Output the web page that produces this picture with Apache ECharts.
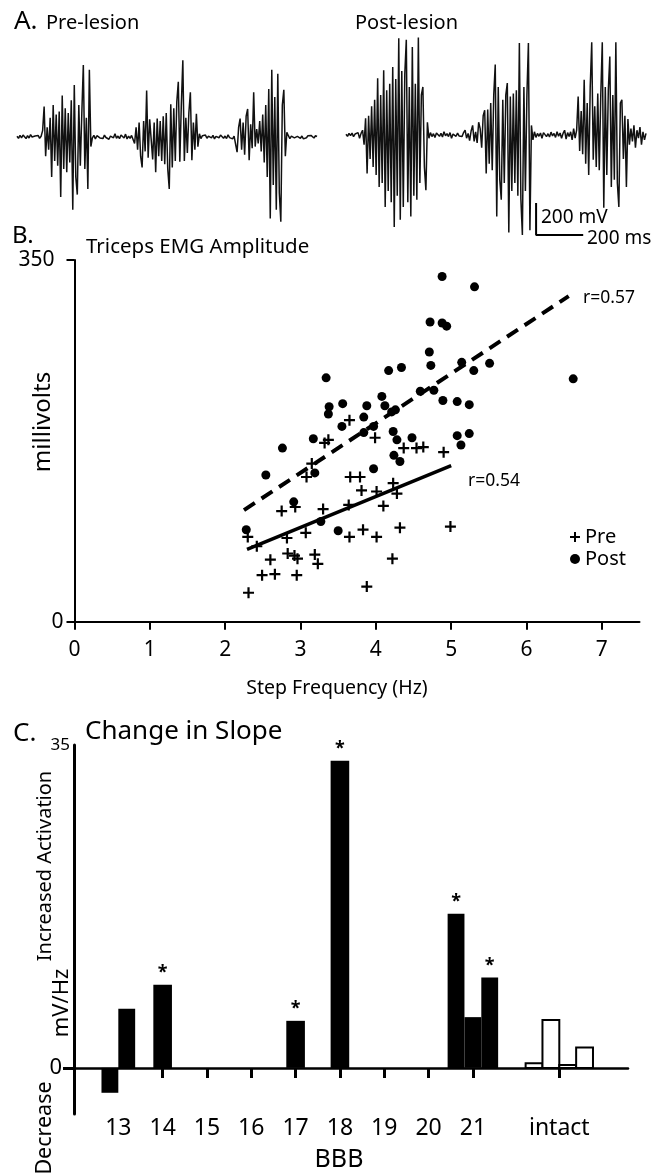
<!DOCTYPE html>
<html><head><meta charset="utf-8">
<script src="https://cdn.jsdelivr.net/npm/echarts@6/dist/echarts.min.js"></script>
<style>html,body{margin:0;padding:0;background:#fff}#c{width:652px;height:1175px}</style>
</head><body><div id="c"></div>
<script>
// ---------- Panel A: EMG traces (mV), one sample every sampleMs ----------
const sampleMs = 6.4;
const preTrace = [
  5,-8,10,-5,12,3,-10,8,-6,15,0,-12,6,-4,10,-8,5,
  40,190,-120,60,-80,120,-250,200,-150,140,-180,160,-375,260,-200,180,-220,150,-160,230,-455,325,-250,-360,200,-180,150,450,-200,120,-325,420,-60,
  -5,10,-12,8,15,-6,4,-10,12,-3,8,-14,6,10,-5,20,-8,6,-10,12,4,-6,18,-12,5,-8,10,
  20,-40,60,-80,90,-120,-190,100,-90,290,-130,110,115,-140,90,-220,115,-120,100,-150,130,-170,150,-200,-325,205,-190,180,-150,220,345,-155,200,480,-150,120,-100,150,280,-145,90,-80,145,-60,20,
  -10,8,-4,12,-8,5,15,-6,10,-12,4,8,-5,12,20,-8,6,-10,14,-4,8,-12,6,
  10,-95,60,115,-80,90,-110,130,175,-145,80,-70,280,-60,50,-40,100,-90,140,-160,200,-250,300,-510,420,-300,250,-455,395,-350,-530,200,295,-120,30,
  8,-10,5,12,-6,-15,4,10,-8,6,-12,-20,-5,8,-4,10,5,-6,8,3
];
const postTrace = [
  5,-8,10,-4,12,-10,6,-5,15,-20,10,
  30,-60,105,-240,120,-150,180,-200,220,-250,355,-325,250,-300,405,-450,280,-350,320,-420,425,-575,350,-380,605,-530,400,-450,380,595,-420,300,-510,550,-380,320,-405,610,-300,250,300,-200,-345,80,
  -20,15,-10,8,-15,12,5,-8,10,-12,20,-5,8,-10,15,-20,6,10,-8,12,-6,4,-10,15,30,-20,10,-35,25,60,-40,20,-50,80,
  40,-80,120,155,-240,160,-180,200,-220,250,440,-510,300,-280,-405,220,-300,250,325,-610,240,-350,260,-300,280,-380,575,-400,-625,300,-350,250,575,-595,60,
  -30,20,-15,10,-8,12,-20,15,5,-10,8,-12,18,-6,10,-15,20,-8,12,-20,10,30,-25,15,-10,20,-30,40,-20,
  30,240,-100,150,-120,345,-180,200,-250,300,580,-155,180,-200,260,-220,250,580,-455,300,-250,280,490,-325,250,-280,580,-300,-450,200,220,-150,120,-325,100,-60,40,
  -40,60,-80,30,-20,50,-60,20,-30,10
];
const scaleBarOrigin = [807, -625];   // ms, mV
const scaleBarSize = [200, 200];      // 200 ms, 200 mV

// ---------- Panel B: Triceps EMG amplitude vs step frequency ----------
const preFreq = [3.65,3.32,3.37,3.99,4.37,4.54,4.63,4.90,3.15,3.08,2.75,2.93,3.30,2.30,2.42,2.82,3.07,3.65,3.83,3.66,3.79,3.81,3.64,2.60,2.83,2.92,2.96,3.19,3.23,2.49,2.66,2.95,2.31,3.88,4.23,4.28,4.01,4.10,4.32,4.99,4.01,4.22];
const preAmp  = [195,173,176,178,168,168,169,164,153,140,107,111,109,82,73,81,86,82,89,140,140,127,113,60,66,64,61,65,56,45,46,45,28,34,134,124,126,112,91,92,82,61];
const postFreq = [3.34,3.38,3.37,3.56,3.88,3.84,3.55,3.17,3.84,4.88,5.31,4.72,4.88,4.94,4.71,4.73,4.17,4.34,5.14,5.30,5.51,6.62,4.77,4.59,4.08,4.12,4.26,4.21,4.89,5.08,5.24,5.08,5.24,4.23,4.48,3.97,4.28,4.24,5.13,2.76,2.54,3.19,2.91,2.28,3.27,3.50,4.32,3.97];
const postAmp  = [236,208,201,211,209,198,189,177,183,334,324,290,289,286,261,248,243,246,251,243,250,235,224,223,218,209,205,203,214,213,210,180,182,184,178,189,176,161,171,168,142,144,116,89,97,88,155,148];
const preFit  = [[2.29, 70], [5.0, 151]];
const postFit = [[2.25, 108], [6.56, 315]];
const preR = 'r=0.54', postR = 'r=0.57';
const freqTicks = [0,1,2,3,4,5,6,7];
const ampTicks = [0, 350];

// ---------- Panel C: change in slope ----------
const bbbLevels = ['13','14','15','16','17','18','19','20','21','intact'];
const slopeChange = [[-2.7, 6.4],[9.0],[],[],[5.1],[33.3],[],[],[16.7, 5.5, 9.8],[0.5, 5.2, 0.3, 2.2]];
const significant = [[false,false],[true],[],[],[true],[true],[],[],[true,false,true],[false,false,false,false]];
const slopeTicks = [0, 35];

// ---------------------------------------------------------------
const FONT = '"Noto Sans", "Open Sans", sans-serif';
const plusPath = 'path://M4,0H6V4H10V6H6V10H4V6H0V4H4Z';
const levelPos = i => (i < 9 ? 13 + i : 22.95);

const barItems = [];
slopeChange.forEach((vals, i) => {
  vals.forEach((v, k) => {
    barItems.push([levelPos(i), k, vals.length, v, significant[i][k] ? 1 : 0, bbbLevels[i] === 'intact' ? 1 : 0]);
  });
});
const bbbTickVals = [14,15,16,17,18,19,20,21,levelPos(9)];
const bbbLabelVals = bbbLevels.map((l, i) => levelPos(i));

function txt(text, x, y, size, o) {
  o = o || {};
  return {
    type: 'text', x: x, y: y, rotation: o.rot || 0, scaleX: o.sx || 1, silent: true,
    style: { text: text, fill: '#000', font: (o.weight || 'normal') + ' ' + size + 'px ' + FONT,
      textAlign: o.align || 'left', textVerticalAlign: 'middle' }
  };
}

const hiddenAxis = (g, extra) => Object.assign({ gridIndex: g, type: 'value', show: false, splitLine: { show: false } }, extra);

const chart = echarts.init(document.getElementById('c'), null, { renderer: 'canvas' });
chart.setOption({
  backgroundColor: '#fff',
  animation: false,
  textStyle: { fontFamily: FONT },
  grid: [
    { left: 17, top: 17, width: 300, height: 240 },
    { left: 346, top: 15, width: 300, height: 240 },
    { left: 74.5, top: 260, width: 565, height: 361.7 },
    { left: 74, top: 745, width: 554, height: 369 }
  ],
  xAxis: [
    hiddenAxis(0, { min: 0, max: (preTrace.length - 1) * sampleMs }),
    hiddenAxis(1, { min: 0, max: (postTrace.length - 1) * sampleMs }),
    { gridIndex: 2, type: 'value', min: 0, max: 7.5,
      axisLine: { lineStyle: { color: '#000', width: 2 } },
      axisTick: { customValues: freqTicks, length: 8, lineStyle: { color: '#000', width: 2 } },
      axisLabel: { customValues: freqTicks, color: '#000', fontSize: 21, margin: 18, fontFamily: FONT },
      splitLine: { show: false } },
    { gridIndex: 3, type: 'value', min: 12, max: 24.5,
      axisLine: { onZero: true, lineStyle: { color: '#000', width: 2.5 } },
      axisTick: { customValues: bbbTickVals, length: 10, lineStyle: { color: '#000', width: 3 } },
      axisLabel: { customValues: bbbLabelVals, color: '#000', fontSize: 23, margin: 3, fontFamily: FONT,
        formatter: v => bbbLevels[bbbLabelVals.indexOf(v)] },
      splitLine: { show: false } }
  ],
  yAxis: [
    hiddenAxis(0, { min: -750, max: 750 }),
    hiddenAxis(1, { min: -750, max: 750 }),
    { gridIndex: 2, type: 'value', min: 0, max: 350,
      axisLine: { show: true, lineStyle: { color: '#000', width: 2 } },
      axisTick: { show: true, customValues: ampTicks, length: 8, lineStyle: { color: '#000', width: 2 } },
      axisLabel: { customValues: ampTicks, color: '#000', margin: 11, fontFamily: FONT,
        formatter: v => v === 0 ? '{z|0}' : '{t|' + v + '}',
        rich: { z: { fontSize: 21, fontFamily: FONT, color: '#000' },
                t: { fontSize: 21, fontFamily: FONT, color: '#000', padding: [0, 9, 0, 0] } } },
      splitLine: { show: false } },
    { gridIndex: 3, type: 'value', min: -5, max: 35,
      axisLine: { show: true, onZero: false, lineStyle: { color: '#000', width: 3 } },
      axisTick: { show: true, customValues: [0], length: 11, lineStyle: { color: '#000', width: 3 } },
      axisLabel: { customValues: slopeTicks, color: '#000', margin: 4, fontFamily: FONT,
        formatter: v => v === 0 ? '{z|0}' : '{t|' + v + '}',
        rich: { z: { fontSize: 22, fontFamily: FONT, color: '#000', padding: [0, 8, 0, 0] },
                t: { fontSize: 17, fontFamily: FONT, color: '#000' } } },
      splitLine: { show: false } }
  ],
  legend: {
    data: [{ name: 'Pre', icon: plusPath }, { name: 'Post', icon: 'circle' }],
    orient: 'vertical', left: 565, top: 522, itemWidth: 10, itemHeight: 10, itemGap: 2,
    selectedMode: false, textStyle: { fontSize: 20, color: '#000', fontFamily: FONT }
  },
  series: [
    { type: 'line', xAxisIndex: 0, yAxisIndex: 0, showSymbol: false, silent: true,
      lineStyle: { color: '#111', width: 1.5 }, data: preTrace.map((v, i) => [i * sampleMs, v]) },
    { type: 'line', xAxisIndex: 1, yAxisIndex: 1, showSymbol: false, silent: true,
      lineStyle: { color: '#111', width: 1.5 }, data: postTrace.map((v, i) => [i * sampleMs, v]) },
    { type: 'line', xAxisIndex: 1, yAxisIndex: 1, showSymbol: false, silent: true,
      lineStyle: { color: '#000', width: 2 },
      data: [[scaleBarOrigin[0], scaleBarOrigin[1] + scaleBarSize[1]], scaleBarOrigin, [scaleBarOrigin[0] + scaleBarSize[0], scaleBarOrigin[1]]] },
    { name: 'Pre', type: 'scatter', xAxisIndex: 2, yAxisIndex: 2, symbol: plusPath, symbolSize: 11,
      itemStyle: { color: '#000', opacity: 1 }, data: preFreq.map((f, i) => [f, preAmp[i]]) },
    { name: 'Post', type: 'scatter', xAxisIndex: 2, yAxisIndex: 2, symbol: 'circle', symbolSize: 9,
      itemStyle: { color: '#000', opacity: 1 }, data: postFreq.map((f, i) => [f, postAmp[i]]) },
    { type: 'line', xAxisIndex: 2, yAxisIndex: 2, showSymbol: false, silent: true,
      lineStyle: { color: '#000', width: 3.5 }, data: preFit },
    { type: 'line', xAxisIndex: 2, yAxisIndex: 2, showSymbol: false, silent: true,
      lineStyle: { color: '#000', width: 4, type: [13, 8] }, data: postFit },
    { type: 'custom', xAxisIndex: 3, yAxisIndex: 3, silent: true, data: barItems,
      renderItem: (params, api) => {
        const x = api.value(0), k = api.value(1), n = api.value(2), v = api.value(3);
        const sig = api.value(4), hollow = api.value(5);
        const w = n > 1 ? 0.38 : 0.42;
        const x0 = x + (k - n / 2) * w;
        const pTop = api.coord([x0, v]);
        const pBase = api.coord([x0 + w, 0]);
        const y0 = Math.min(pTop[1], pBase[1]);
        const h = Math.abs(pBase[1] - pTop[1]);
        const children = [{
          type: 'rect', shape: { x: pTop[0], y: y0, width: pBase[0] - pTop[0], height: h },
          style: hollow ? { fill: '#fff', stroke: '#000', lineWidth: 2 } : { fill: '#000' }
        }];
        if (sig) {
          children.push({ type: 'text', style: { text: '*', x: (pTop[0] + pBase[0]) / 2, y: pTop[1] - 3,
            textAlign: 'center', textVerticalAlign: 'bottom', font: 'bold 18px ' + FONT, fill: '#000' } });
        }
        return { type: 'group', children: children };
      } }
  ],
  graphic: [
    txt('A.', 14, 22, 26),
    txt('Pre-lesion', 46, 23, 20),
    txt('Post-lesion', 355, 23, 20),
    txt('200 mV', 541, 218, 19),
    txt('200 ms', 587, 239, 19),
    txt('B.', 12, 236, 24),
    txt('Triceps EMG Amplitude', 86, 247, 20.5),
    txt(postR, 583, 298, 17.5),
    txt(preR, 468, 481, 17.5),
    txt('millivolts', 43, 422, 24, { rot: Math.PI / 2, align: 'center' }),
    txt('Step Frequency (Hz)', 337, 688, 19.5, { align: 'center' }),
    txt('C.', 13, 734, 26),
    txt('Change in Slope', 85, 732, 26),
    txt('Increased Activation', 45, 866, 20, { rot: Math.PI / 2, align: 'center' }),
    txt('mV/Hz', 62, 1003, 22, { rot: Math.PI / 2, align: 'center' }),
    txt('Decrease', 45, 1128, 21.5, { rot: Math.PI / 2, align: 'center' }),
    txt('BBB', 339, 1160, 25, { align: 'center' })
  ]
});
</script></body></html>
